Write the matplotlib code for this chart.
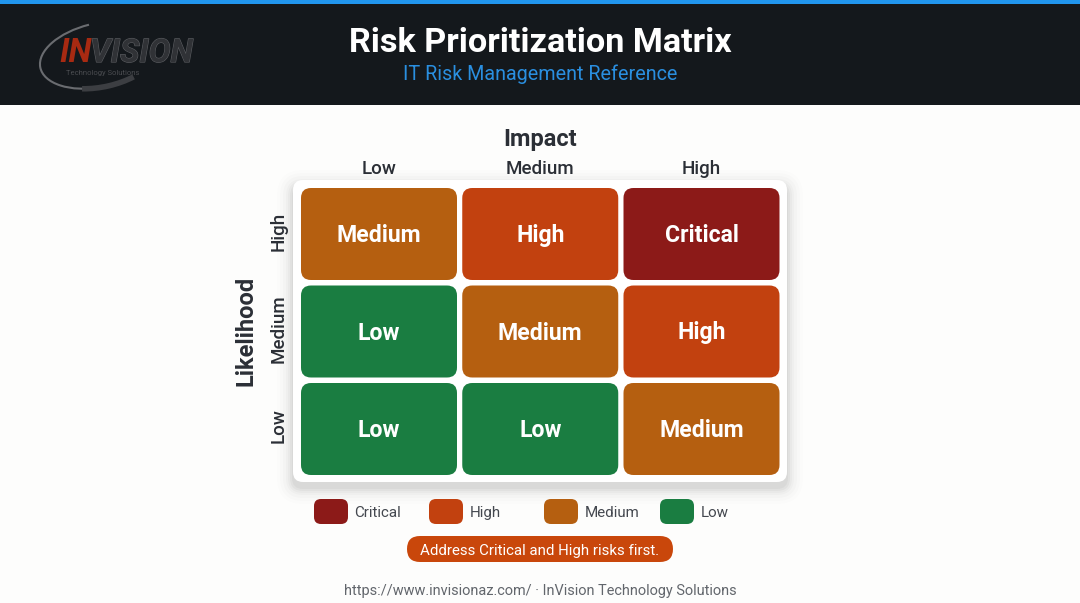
import numpy as np
import matplotlib
matplotlib.use('Agg')
import matplotlib.pyplot as plt
import matplotlib.patheffects as pe
from matplotlib.patches import FancyBboxPatch, Rectangle, Arc

plt.rcParams['font.family'] = ['Roboto', 'DejaVu Sans']

impact_labels = ['Low', 'Medium', 'High']
likelihood_labels = ['High', 'Medium', 'Low']
risk_levels = [['Medium', 'High', 'Critical'],
               ['Low', 'Medium', 'High'],
               ['Low', 'Low', 'Medium']]
legend_labels = ['Critical', 'High', 'Medium', 'Low']
risk_colors = {'Critical': '#8c1a18', 'High': '#c2410f', 'Medium': '#b55f10', 'Low': '#1a7d41'}
text_dark = '#2b2f36'


def round_box(ax, x0, y0, x1, y1, radius, color, **kwargs):
    box = FancyBboxPatch((x0 + radius, y0 + radius), x1 - x0 - 2 * radius, y1 - y0 - 2 * radius,
                         boxstyle=f'round,pad={radius},rounding_size={radius}',
                         facecolor=color, edgecolor='none', **kwargs)
    ax.add_patch(box)
    return box


fig = plt.figure(figsize=(10.8, 6.03), dpi=100)
ax = fig.add_axes([0, 0, 1, 1])
ax.set_xlim(0, 1080)
ax.set_ylim(603, 0)
ax.axis('off')
fig.patch.set_facecolor('#fdfdfc')

# header band
ax.add_patch(Rectangle((0, 0), 1080, 105, facecolor='#14181c', edgecolor='none'))
ax.add_patch(Rectangle((0, 0), 1080, 4, facecolor='#2196ee', edgecolor='none'))
ax.text(540, 52, 'Risk Prioritization Matrix', color='white', fontsize=24.7, fontweight='bold',
        ha='center', va='baseline')
ax.text(540, 79.5, 'IT Risk Management Reference', color='#2a8fe0', fontsize=14.2,
        ha='center', va='baseline')

# logo
ax.add_patch(Arc((100, 55), 122, 64, angle=-12, theta1=100, theta2=262, color='#6a6c70', lw=1.5))
ax.add_patch(Arc((100, 55), 122, 64, angle=-12, theta1=45, theta2=130, color='#3c3e42', lw=4))
outline = [pe.withStroke(linewidth=0.8, foreground='#5c5e62')]
ax.text(59, 62, 'IN', color='#a82a12', fontsize=24, fontweight='bold', style='italic',
        va='baseline', ha='left')
ax.text(90, 62, 'VISION', color='#303236', fontsize=23.5, fontweight='bold', style='italic',
        va='baseline', ha='left', path_effects=outline)
ax.text(103, 75, 'Technology Solutions', color='#4a4c50', fontsize=5.5, va='baseline', ha='center')

# matrix panel with a soft shadow
for grow, alpha in zip([16, 13, 10, 7, 5, 3, 1], [0.008, 0.012, 0.015, 0.02, 0.025, 0.03, 0.03]):
    round_box(ax, 293 - grow, 186 - grow, 787 + grow, 488 + grow, 10 + grow, 'black', alpha=alpha)
round_box(ax, 293, 180, 787, 482, 10, 'white')

col_left = 301
row_top = 188
cell_w = 156
cell_h = 92
col_step = 161.25
row_step = 97.5
for r, row in enumerate(risk_levels):
    for c, level in enumerate(row):
        x0 = col_left + c * col_step
        y0 = row_top + r * row_step
        round_box(ax, x0, y0, x0 + cell_w, y0 + cell_h, 10, risk_colors[level])
        ax.text(x0 + cell_w / 2, y0 + 54, level, color='white', fontsize=16.6,
                fontweight='bold', ha='center', va='baseline')

# axis headings
ax.text(540, 146, 'Impact', color=text_dark, fontsize=17, fontweight='bold', ha='center', va='baseline')
ax.text(253, 331, 'Likelihood', color=text_dark, fontsize=17, fontweight='bold',
        rotation=90, rotation_mode='anchor', ha='center', va='baseline')
for c, label in enumerate(impact_labels):
    ax.text(col_left + c * col_step + cell_w / 2, 174, label, color=text_dark, fontsize=13.5,
            fontweight='medium', ha='center', va='baseline')
for r, label in enumerate(likelihood_labels):
    ax.text(284, row_top + r * row_step + 43, label, color=text_dark, fontsize=13.5,
            fontweight='medium', rotation=90, rotation_mode='anchor', ha='center', va='baseline')

# legend
legend_x = [314, 429, 544, 660]
for x, label in zip(legend_x, legend_labels):
    round_box(ax, x, 499, x + 34, 524, 7, risk_colors[label])
    ax.text(x + 40.5, 517, label, color='#44484f', fontsize=10.9, ha='left', va='baseline')

# callout and footer
round_box(ax, 407, 536, 673, 562, 13, '#c9470b')
ax.text(540, 554.5, 'Address Critical and High risks first.', color='white', fontsize=10.8,
        ha='center', va='baseline')
ax.text(540, 595, 'https://www.invisionaz.com/ · InVision Technology Solutions', color='#62666c',
        fontsize=10.45, ha='center', va='baseline')

fig.savefig('out.png', dpi=100)
